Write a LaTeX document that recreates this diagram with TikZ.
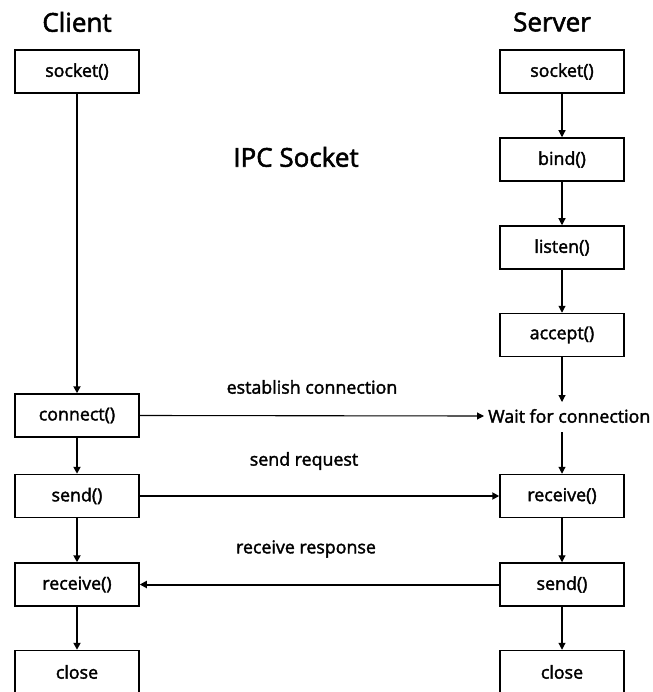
\documentclass[tikz,border=0pt]{standalone}
\usepackage{fontspec}
\setmainfont{Open Sans}
\newfontfamily\semib{Open Sans}[FakeBold=2]
\usetikzlibrary{arrows.meta}
\tikzset{
  box/.style={draw=black, line width=1.5pt, minimum width=124pt, minimum height=43pt, inner sep=0pt, font=\semib\fontsize{17.8}{20}\selectfont},
  lbl/.style={inner sep=0pt, font=\semib\fontsize{17.8}{20}\selectfont},
  title/.style={inner sep=0pt, font=\semib\fontsize{26}{30}\selectfont},
  thick arr/.style={line width=2pt, -{Triangle[length=7pt,width=7pt]}},
  thin arr/.style={line width=1.1pt, -{Triangle[length=7pt,width=7pt]}}
}
\begin{document}
\begin{tikzpicture}[x=1pt,y=-1pt]
\clip (0,0) rectangle (652,692);
\fill[white] (0,0) rectangle (652,692);
% titles
\node[title] (client) at (77,22) {Client};
\node[title] (server) at (552,22) {Server};
\node[title] (ipc) at (296,157) {IPC Socket};
% client column
\node[box] (csock) at (77,71.5) {socket()};
\node[box] (cconn) at (77,415.5) {connect()};
\node[box] (csend) at (77,496) {send()};
\node[box] (crecv) at (77,584.5) {receive()};
\node[box] (cclose) at (77,672) {close};
% server column
\node[box] (ssock) at (562,71.5) {socket()};
\node[box] (sbind) at (562,159.5) {bind()};
\node[box] (slisten) at (562,247.5) {listen()};
\node[box] (saccept) at (562,335) {accept()};
\node[lbl, anchor=west] (swait) at (488,416) {Wait for connection};
\node[box] (srecv) at (562,496) {receive()};
\node[box] (ssend) at (562,584.5) {send()};
\node[box] (sclose) at (562,672) {close};
\coordinate (waitin) at (562,402);
\coordinate (waitout) at (562,432);
% message labels
\node[lbl] (m1) at (312,387) {establish connection};
\node[lbl] (m2) at (304,461) {send request};
\node[lbl] (m3) at (306,549) {receive response};
% client arrows
\draw[thick arr] (csock) -- (cconn);
\draw[thick arr] (cconn) -- (csend);
\draw[thick arr] (csend) -- (crecv);
\draw[thick arr] (crecv) -- (cclose);
% server arrows
\draw[thin arr] (ssock) -- (sbind);
\draw[thin arr] (sbind) -- (slisten);
\draw[thin arr] (slisten) -- (saccept);
\draw[thin arr] (saccept) -- (waitin);
\draw[thin arr] (waitout) -- (srecv);
\draw[thin arr] (srecv) -- (ssend);
\draw[thin arr] (ssend) -- (sclose);
% horizontal
\draw[thin arr] (cconn.east) -- ([xshift=-4pt]swait.west);
\draw[thick arr] (csend) -- (srecv);
\draw[thick arr] (ssend) -- (crecv);
\end{tikzpicture}
\end{document}
